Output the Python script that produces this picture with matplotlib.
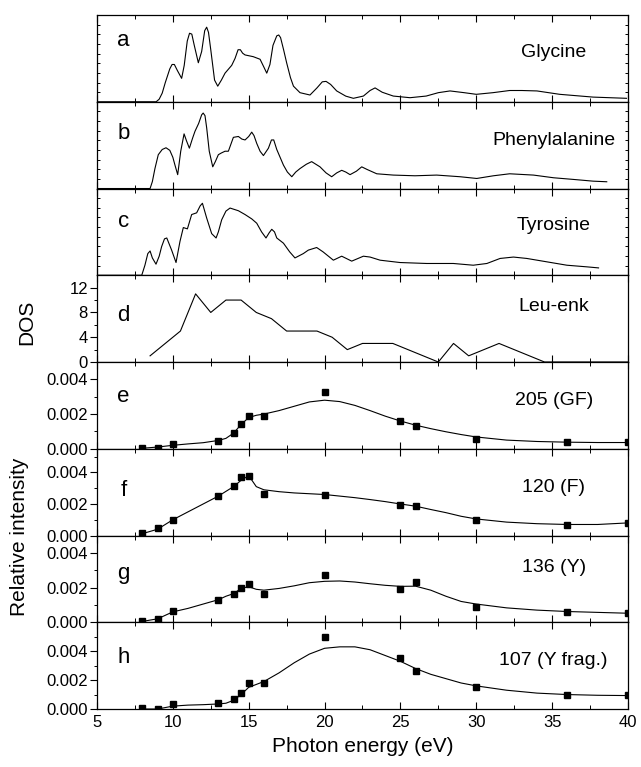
import numpy as np
import matplotlib
matplotlib.use("Agg")
import matplotlib.pyplot as plt
from matplotlib.ticker import MultipleLocator, FixedLocator, NullFormatter

plt.rcParams['font.family'] = ['Liberation Sans', 'DejaVu Sans']

# --- spectra (relative height, 0..1 of panel) ---
gly_x = [5, 8.9, 9.1, 9.3, 9.5, 9.8, 9.95, 10.1, 10.3, 10.58, 10.75, 10.95, 11.1, 11.25, 11.4, 11.68,
         11.9, 12.1, 12.23, 12.35, 12.5, 12.75, 12.96, 13.2, 13.44, 13.88, 14.1, 14.3, 14.45, 14.6,
         14.76, 15.3, 15.75, 16.0, 16.19, 16.4, 16.6, 16.85, 16.98, 17.1, 17.3, 17.5, 17.75, 17.95,
         18.38, 19.04, 19.5, 19.85, 20.1, 20.4, 20.8, 21.4, 21.9, 22.56, 23.0, 23.33, 23.8, 24.53,
         25.63, 26.7, 27.5, 28.27, 29.2, 30.0, 31.1, 32.2, 33.0, 34.0, 35.5, 37.7, 39.9]
gly_y = [0, 0, 0.03, 0.1, 0.22, 0.38, 0.43, 0.43, 0.36, 0.27, 0.42, 0.70, 0.79, 0.78, 0.66, 0.45,
         0.58, 0.82, 0.86, 0.80, 0.6, 0.25, 0.18, 0.25, 0.33, 0.42, 0.5, 0.6, 0.6, 0.56,
         0.54, 0.52, 0.49, 0.40, 0.33, 0.43, 0.65, 0.76, 0.77, 0.74, 0.6, 0.45, 0.28, 0.18,
         0.105, 0.078, 0.16, 0.23, 0.235, 0.20, 0.125, 0.065, 0.04, 0.066, 0.13, 0.16, 0.11, 0.066,
         0.047, 0.066, 0.105, 0.125, 0.105, 0.086, 0.105, 0.13, 0.13, 0.125, 0.086, 0.054, 0.04]

phe_x = [5, 8.5, 8.65, 8.82, 9.04, 9.3, 9.55, 9.8, 10.0, 10.14, 10.32, 10.52, 10.74, 10.9, 11.09, 11.3,
         11.46, 11.7, 11.9, 12.0, 12.12, 12.23, 12.4, 12.63, 12.8, 13.0, 13.2, 13.44, 13.66, 13.99,
         14.32, 14.55, 14.76, 15.0, 15.2, 15.35, 15.53, 15.75, 15.97, 16.3, 16.5, 16.65, 16.85, 17.29,
         17.55, 17.84, 18.1, 18.38, 18.8, 19.15, 19.7, 20.1, 20.47, 20.8, 21.13, 21.4, 21.68, 22.1,
         22.45, 22.8, 23.44, 24.53, 25.96, 27.39, 28.93, 30.03, 31.13, 32.2, 33.77, 35.1, 36.4,
         37.7, 38.6]
phe_y = [0, 0, 0.08, 0.23, 0.39, 0.45, 0.47, 0.44, 0.36, 0.27, 0.16, 0.43, 0.63, 0.55, 0.465, 0.58,
         0.66, 0.75, 0.85, 0.87, 0.84, 0.70, 0.43, 0.25, 0.31, 0.39, 0.41, 0.43, 0.43, 0.59,
         0.60, 0.57, 0.56, 0.60, 0.65, 0.61, 0.52, 0.43, 0.38, 0.465, 0.56, 0.56, 0.45, 0.27,
         0.19, 0.136, 0.19, 0.23, 0.28, 0.31, 0.25, 0.18, 0.136, 0.18, 0.21, 0.19, 0.16, 0.20,
         0.25, 0.22, 0.17, 0.155, 0.147, 0.155, 0.136, 0.116, 0.147, 0.17, 0.155, 0.124, 0.105,
         0.085, 0.078]

tyr_x = [5, 7.95, 8.16, 8.35, 8.5, 8.65, 8.89, 9.1, 9.26, 9.45, 9.6, 9.92, 10.21, 10.47, 10.69, 10.96,
         11.24, 11.57, 11.8, 11.95, 12.23, 12.56, 12.85, 13.0, 13.22, 13.5, 13.77, 14.32, 14.76, 15.2,
         15.53, 15.85, 16.14, 16.35, 16.52, 16.7, 16.85, 17.29, 17.7, 18.05, 18.6, 18.93, 19.48, 19.9,
         20.58, 21.13, 21.79, 22.56, 23.0, 23.66, 24.97, 26.73, 28.49, 29.8, 30.7, 31.57, 32.45,
         33.33, 34.65, 35.97, 37.3, 38.06]
tyr_y = [0, 0, 0.116, 0.25, 0.28, 0.2, 0.128, 0.22, 0.33, 0.42, 0.43, 0.29, 0.147, 0.39, 0.55, 0.535,
         0.70, 0.72, 0.80, 0.83, 0.66, 0.48, 0.43, 0.5, 0.64, 0.74, 0.775, 0.744, 0.70, 0.65,
         0.60, 0.5, 0.43, 0.49, 0.53, 0.5, 0.43, 0.37, 0.27, 0.20, 0.25, 0.29, 0.32, 0.27,
         0.174, 0.22, 0.163, 0.22, 0.21, 0.174, 0.147, 0.136, 0.136, 0.116, 0.136, 0.194, 0.21,
         0.194, 0.155, 0.116, 0.097, 0.085]

# --- Leu-enk density of states ---
dos_x = [8.5, 9.5, 10.5, 11.5, 12.5, 13.5, 14.5, 15.5, 16.5, 17.5, 18.5, 19.5, 20.5, 21.5, 22.5,
         23.5, 24.5, 25.5, 26.5, 27.5, 28.5, 29.5, 30.5, 31.5, 32.5, 33.5, 34.5, 40]
dos_y = [1, 3, 5, 11, 8, 10, 10, 8, 7, 5, 5, 5, 4, 2, 3,
         3, 3, 2, 1, 0, 3, 1, 2, 3, 2, 1, 0, 0]

# --- fragment yields ---
pts_x = [8, 9, 10, 13, 14, 14.5, 15, 16, 20, 25, 26, 30, 36, 40]
e_pts = [0.00006, 0.00006, 0.00025, 0.00042, 0.00092, 0.0014, 0.0019, 0.0019, 0.0033, 0.00158,
         0.00133, 0.00058, 0.00038, 0.00037]
f_pts = [0.00015, 0.00047, 0.001, 0.0025, 0.00315, 0.00368, 0.00379, 0.00266, 0.0026, 0.00196,
         0.0019, 0.001, 0.00066, 0.00081]
g_pts = [0.0001, 0.00017, 0.00063, 0.0013, 0.00165, 0.002, 0.0022, 0.00163, 0.0027, 0.0019,
         0.0023, 0.0009, 0.00062, 0.00052]
h_pts = [0.00005, 0.0, 0.00032, 0.0004, 0.0007, 0.00113, 0.0018, 0.0018, 0.005, 0.0035,
         0.0026, 0.0015, 0.00097, 0.00097]

fit_x = [8, 9, 10, 11, 12, 13, 13.5, 14, 14.5, 15, 15.5, 16, 17, 18, 19, 20, 21, 22, 23, 24,
         25, 26, 27, 28, 29, 30, 32, 34, 36, 38, 40]
e_fit = [0.00003, 0.0001, 0.0002, 0.00028, 0.00035, 0.00048, 0.0006, 0.0009, 0.0014, 0.0018,
         0.00193, 0.002, 0.0022, 0.00245, 0.0027, 0.0028, 0.00272, 0.0025, 0.0022, 0.00188,
         0.0016, 0.00136, 0.00116, 0.00098, 0.00082, 0.00068, 0.0005, 0.00042, 0.00038, 0.00036, 0.00036]
f_fit = [0.00012, 0.0004, 0.001, 0.0015, 0.002, 0.0025, 0.0028, 0.0031, 0.0035, 0.0038,
         0.0031, 0.0029, 0.00278, 0.0027, 0.00265, 0.0026, 0.0025, 0.0024, 0.00228, 0.00215,
         0.002, 0.00186, 0.00165, 0.00145, 0.00122, 0.00105, 0.00085, 0.00075, 0.0007, 0.0007, 0.0008]
g_fit = [0.00005, 0.0002, 0.0006, 0.0008, 0.00105, 0.0013, 0.0015, 0.00165, 0.00195, 0.00205,
         0.0019, 0.00185, 0.00195, 0.0021, 0.00228, 0.00236, 0.00238, 0.00232, 0.00222, 0.00213,
         0.00207, 0.00208, 0.00185, 0.0015, 0.0012, 0.00105, 0.00083, 0.0007, 0.00062, 0.00057, 0.00052]
h_fit = [0.0, 0.0, 0.0002, 0.00027, 0.0003, 0.00035, 0.0004, 0.0006, 0.001, 0.0015,
         0.0017, 0.0019, 0.0025, 0.0032, 0.0038, 0.0042, 0.0043, 0.0043, 0.0041, 0.0037,
         0.0033, 0.0028, 0.0024, 0.0021, 0.0018, 0.0016, 0.0013, 0.0011, 0.001, 0.00095, 0.00093]

letters = ['a', 'b', 'c', 'd', 'e', 'f', 'g', 'h']
names = ['Glycine', 'Phenylalanine', 'Tyrosine', 'Leu-enk', '205 (GF)', '120 (F)', '136 (Y)',
         '107 (Y frag.)']
letter_y = [0.71, 0.64, 0.62, 0.54, 0.60, 0.52, 0.56, 0.59]
name_y = [0.57, 0.55, 0.57, 0.635, 0.56, 0.555, 0.636, 0.56]

fig, axes = plt.subplots(8, 1, sharex=True, figsize=(6.41, 7.67), dpi=100)
fig.subplots_adjust(left=0.1513, right=0.9797, top=0.9804, bottom=0.0756, hspace=0)

lw = 0.8
spectra = [(gly_x, gly_y), (phe_x, phe_y), (tyr_x, tyr_y)]
for ax, (sx, sy) in zip(axes[:3], spectra):
    ax.plot(sx, sy, color='black', lw=lw)
    ax.set_ylim(0, 1)
    ax.set_yticks(np.linspace(0, 1, 10))
    ax.yaxis.set_major_formatter(NullFormatter())
    ax.tick_params(axis='y', which='both', direction='in', left=True, right=True, length=2.5, width=0.7)

ax = axes[3]
ax.plot(dos_x, dos_y, color='black', lw=lw)
ax.set_ylim(0, 14)
ax.yaxis.set_major_locator(FixedLocator([0, 4, 8, 12]))
ax.yaxis.set_minor_locator(FixedLocator([2, 6, 10]))

yields = [(e_pts, e_fit, 0.005), (f_pts, f_fit, 0.0055), (g_pts, g_fit, 0.005), (h_pts, h_fit, 0.006)]
for ax, (pts, fit, top) in zip(axes[4:], yields):
    ax.plot(fit_x, fit, color='black', lw=lw)
    ax.plot(pts_x, pts, 's', color='black', ms=4.5)
    ax.set_ylim(0, top)
    ax.yaxis.set_major_locator(FixedLocator([0, 0.002, 0.004]))
    ax.yaxis.set_minor_locator(FixedLocator([0.001, 0.003, 0.005]))
    ax.yaxis.set_major_formatter(lambda v, p: f"{v:.3f}")

for ax in axes[3:]:
    ax.tick_params(axis='y', which='major', direction='out', left=True, right=False, length=5, width=0.8,
                   labelsize=12, pad=1.5)
    ax.tick_params(axis='y', which='minor', direction='out', left=True, right=False, length=2.5, width=0.7)

for i, ax in enumerate(axes):
    ax.set_xlim(5, 40)
    ax.xaxis.set_major_locator(MultipleLocator(5))
    ax.xaxis.set_minor_locator(MultipleLocator(2.5))
    ax.tick_params(axis='x', which='major', direction='in', top=True, bottom=True, length=5, width=0.8,
                   labelsize=12)
    ax.tick_params(axis='x', which='minor', direction='in', top=True, bottom=True, length=3, width=0.7)
    for s in ax.spines.values():
        s.set_linewidth(0.9)
    ax.text(0.05, letter_y[i], letters[i], transform=ax.transAxes, fontsize=16, ha='center', va='center')
    ax.text(0.86, name_y[i], names[i], transform=ax.transAxes, fontsize=14, ha='center', va='center')

axes[-1].tick_params(axis='x', which='major', pad=4)
axes[-1].set_xlabel('Photon energy (eV)', fontsize=15, labelpad=5)
fig.text(27 / 641, 1 - 322 / 767, 'DOS', rotation=90, fontsize=15, ha='center', va='center')
fig.text(20 / 641, 1 - 537 / 767, 'Relative intensity', rotation=90, fontsize=15, ha='center', va='center')

fig.savefig('out.png', dpi=100)
